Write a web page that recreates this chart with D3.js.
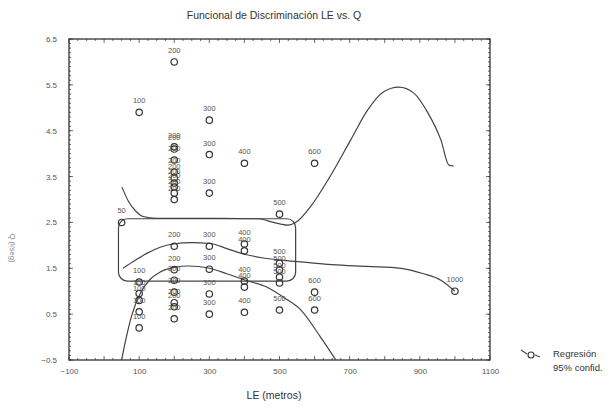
<!DOCTYPE html>
<html><head><meta charset="utf-8">
<script src="https://cdn.jsdelivr.net/npm/d3@7"></script>
<style>body{margin:0;background:#fff}svg{display:block}</style>
</head><body>
<script>
// ---- data ----
const title = "Funcional de Discriminación LE vs. Q";
const xLabel = "LE (metros)";
const yLabel = "Q (l/seg)";
const xTicks = [-100, 100, 300, 500, 700, 900, 1100];
const yTicks = [-0.5, 0.5, 1.5, 2.5, 3.5, 4.5, 5.5, 6.5];
const legendItems = ["Regresión", "95% confid."];
// observations: LE (m), Q (l/seg)
const pointsLE = [50,
  100,100,100,100,100,100,
  200,200,200,200,200,200,200,200,200,200,200,200,200,200,200,200,200,
  300,300,300,300,300,300,300,
  400,400,400,400,400,400,
  500,500,500,500,500,500,
  600,600,600,
  1000];
const pointsQ = [2.5,
  4.9,1.2,0.95,0.8,0.55,0.2,
  6.0,4.15,4.1,3.86,3.6,3.47,3.36,3.27,3.14,3.0,1.98,1.47,1.24,0.98,0.75,0.66,0.4,
  4.73,3.98,3.14,1.98,1.48,0.94,0.5,
  3.79,2.03,1.88,1.22,1.09,0.54,
  2.68,1.61,1.46,1.31,1.18,0.59,
  3.79,0.98,0.59,
  1.0];
// regression curve
const regX = [54, 90, 123, 160, 197, 250, 303, 350, 403, 450, 503, 560, 650, 750, 846, 911, 960, 1000];
const regY = [1.5, 1.68, 1.83, 1.96, 2.03, 2.06, 2.04, 1.93, 1.8, 1.73, 1.68, 1.64, 1.58, 1.54, 1.5, 1.38, 1.24, 1.0];
// upper 95% band
const upX = [51, 70, 90, 111, 150, 300, 440, 483, 523, 550, 589, 640, 703, 751, 797, 840, 883, 923, 960, 983, 997];
const upY = [3.27, 2.95, 2.75, 2.63, 2.59, 2.59, 2.58, 2.5, 2.44, 2.52, 2.85, 3.45, 4.3, 4.95, 5.35, 5.45, 5.32, 4.89, 4.3, 3.75, 3.73];
// lower 95% band
const loX = [50, 62, 80, 103, 130, 160, 200, 240, 300, 350, 403, 466, 511, 560, 617, 665];
const loY = [-0.5, -0.05, 0.5, 0.95, 1.25, 1.42, 1.52, 1.55, 1.5, 1.38, 1.24, 1.08, 0.87, 0.6, 0.0, -0.55];
// rounded annotation box (LE range, Q range)
const boxLE = [41, 546];
const boxQ = [1.22, 2.58];

// ---- drawing ----
const W = 616, H = 411;
const m = {left: 69, right: 490, top: 39, bottom: 360};
const svg = d3.select("body").append("svg").attr("width", W).attr("height", H)
  .style("font-family", "Arial, 'Liberation Sans', sans-serif");
const x = d3.scaleLinear().domain([-100, 1100]).range([m.left, m.right]);
const y = d3.scaleLinear().domain([-0.5, 6.5]).range([m.bottom, m.top]);

svg.append("text").attr("x", 274).attr("y", 19).attr("text-anchor", "middle")
  .attr("font-size", 10.5).attr("fill", "#333").text(title);

// clip
svg.append("clipPath").attr("id", "clip").append("rect")
  .attr("x", m.left).attr("y", m.top).attr("width", m.right - m.left).attr("height", m.bottom - m.top);

// axes with minor ticks
const gx = svg.append("g").attr("transform", `translate(0,${m.bottom})`)
  .call(d3.axisBottom(x).tickValues(xTicks).tickSize(0).tickPadding(8).tickFormat(d3.format("d")));
const gy = svg.append("g").attr("transform", `translate(${m.left},0)`)
  .call(d3.axisLeft(y).tickValues(yTicks).tickSize(0).tickPadding(12).tickFormat(d3.format(".1f")));
[gx, gy].forEach(g => {
  g.select(".domain").remove();
  g.selectAll("text").attr("font-size", 8).attr("fill", "#555");
});
const minorX = d3.range(-100, 1101, 25);
const minorY = d3.range(-0.5, 6.51, 0.1);
const tk = svg.append("g").attr("stroke", "#444").attr("stroke-width", 0.8);
tk.selectAll(".mxb").data(minorX).join("line")
  .attr("x1", d => x(d)).attr("x2", d => x(d)).attr("y1", m.bottom).attr("y2", d => m.bottom - (d % 100 === 0 ? 4 : 2));
tk.selectAll(".mxt").data(minorX).join("line")
  .attr("x1", d => x(d)).attr("x2", d => x(d)).attr("y1", m.top).attr("y2", d => m.top + (d % 100 === 0 ? 4 : 2));
tk.selectAll(".myl").data(minorY).join("line")
  .attr("y1", d => y(d)).attr("y2", d => y(d)).attr("x1", m.left).attr("x2", m.left + 2);
tk.selectAll(".myr").data(minorY).join("line")
  .attr("y1", d => y(d)).attr("y2", d => y(d)).attr("x1", m.right).attr("x2", m.right - 2);
tk.selectAll(".majl").data(yTicks).join("line")
  .attr("y1", d => y(d)).attr("y2", d => y(d)).attr("x1", m.left).attr("x2", m.left + 4);
tk.selectAll(".majr").data(yTicks).join("line")
  .attr("y1", d => y(d)).attr("y2", d => y(d)).attr("x1", m.right).attr("x2", m.right - 4);

// frame
svg.append("rect").attr("x", m.left).attr("y", m.top).attr("width", m.right - m.left)
  .attr("height", m.bottom - m.top).attr("fill", "none").attr("stroke", "#333").attr("stroke-width", 1.3);

// axis titles
svg.append("text").attr("x", 274).attr("y", 399).attr("text-anchor", "middle")
  .attr("font-size", 10.5).attr("fill", "#333").text(xLabel);
svg.append("text").attr("transform", "translate(10,248) rotate(90)").attr("text-anchor", "middle")
  .attr("font-size", 7.5).attr("fill", "#888").text(yLabel);

// curves
const plot = svg.append("g").attr("clip-path", "url(#clip)");
const line = d3.line().x(d => x(d[0])).y(d => y(d[1])).curve(d3.curveMonotoneX);
const curveStyle = s => s.attr("fill", "none").attr("stroke", "#444").attr("stroke-width", 1.2);
plot.append("path").datum(d3.zip(regX, regY)).attr("d", line).call(curveStyle);
plot.append("path").datum(d3.zip(upX, upY)).attr("d", line).call(curveStyle);
plot.append("path").datum(d3.zip(loX, loY)).attr("d", line).call(curveStyle);

// rounded box
plot.append("rect").attr("x", x(boxLE[0])).attr("y", y(boxQ[1]))
  .attr("width", x(boxLE[1]) - x(boxLE[0])).attr("height", y(boxQ[0]) - y(boxQ[1]))
  .attr("rx", 9).attr("ry", 9).attr("fill", "none").attr("stroke", "#444").attr("stroke-width", 1.2);

// points + labels
const pts = d3.zip(pointsLE, pointsQ);
plot.selectAll("circle.pt").data(pts).join("circle")
  .attr("cx", d => x(d[0])).attr("cy", d => y(d[1])).attr("r", 3.2)
  .attr("fill", "none").attr("stroke", "#333").attr("stroke-width", 1.2);
svg.selectAll("text.pl").data(pts).join("text")
  .attr("x", d => x(d[0])).attr("y", d => y(d[1]) - 9).attr("text-anchor", "middle")
  .attr("font-size", 7.5).attr("fill", "#555").text(d => d[0]);

// legend
const lg = svg.append("g");
lg.append("path").attr("d", "M521,350 L527,354 M535,355 L540,357").attr("stroke", "#444").attr("fill", "none").attr("stroke-width", 1.1);
lg.append("circle").attr("cx", 531).attr("cy", 355).attr("r", 3).attr("fill", "none").attr("stroke", "#333").attr("stroke-width", 1.1);
lg.selectAll("text").data(legendItems).join("text")
  .attr("x", 553).attr("y", (d, i) => 357 + i * 14).attr("font-size", 9.5).attr("fill", "#333").text(d => d);
</script>
</body></html>
